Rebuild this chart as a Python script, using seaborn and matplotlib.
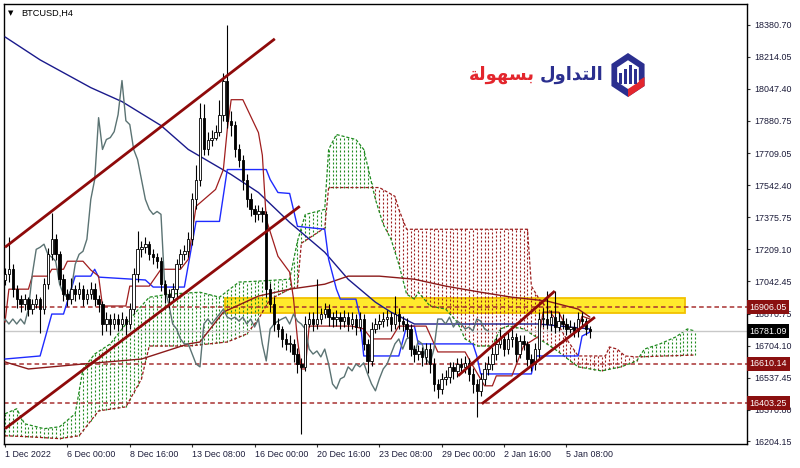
import matplotlib

matplotlib.use("Agg")
import matplotlib.pyplot as plt
import numpy as np
import pandas as pd
import seaborn as sns
from matplotlib.patches import Rectangle, RegularPolygon, Polygon
from matplotlib.transforms import blended_transform_factory


# H4 candles, bar 0 = 1 Dec 2022
first_open = 17050
closes = [
    17078, 17104, 17000, 16948, 16922, 16948, 16896, 16922, 16948, 16896,
    17026, 17182, 17261, 17182, 17052, 16974, 16948, 17000, 16974, 17000,
    16948, 16974, 17000, 16948, 16922, 16818, 16844, 16818, 16844, 16818,
    16844, 16818, 16896, 17078, 17208, 17219, 17235, 17182, 17167, 17146,
    17026, 16974, 16958, 17000, 17130, 17182, 17198, 17261, 17469, 17573,
    17896, 17730, 17782, 17792, 17823, 17912, 18090, 17880, 17860, 17730,
    17677, 17573, 17469, 17417, 17391, 17406, 17391, 17000, 16922, 16818,
    16792, 16740, 16714, 16714, 16661, 16609, 16594, 16818, 16844, 16818,
    16844, 16870, 16896, 16854, 16844, 16854, 16833, 16854, 16818, 16844,
    16802, 16844, 16714, 16625, 16792, 16818, 16833, 16844, 16854, 16818,
    16870, 16833, 16818, 16792, 16687, 16661, 16677, 16646, 16687, 16609,
    16505, 16479, 16531, 16542, 16594, 16573, 16609, 16594, 16615, 16557,
    16505, 16469, 16531, 16583, 16609, 16661, 16714, 16740, 16687, 16740,
    16750, 16661, 16730, 16714, 16635, 16609, 16687, 16844, 16844, 16818,
    16854, 16802, 16833, 16818, 16792, 16802, 16781, 16844, 16833, 16792,
    16781,
]
highs = [
    17110, 17270, 17130, 17020, 16970, 16975, 16960, 16950, 16975, 16960,
    17060, 17215, 17400, 17290, 17200, 17080, 17000, 17060, 17020, 17040,
    17020, 17000, 17040, 17030, 16970, 16940, 16880, 16870, 16875, 16870,
    16880, 16860, 16930, 17110, 17303, 17250, 17270, 17250, 17210, 17190,
    17170, 17050, 17000, 17030, 17160, 17210, 17230, 17300, 17500, 17650,
    17975, 17970, 17820, 17830, 17860, 17990, 18130, 18380, 17930, 17880,
    17760, 17700, 17600, 17500, 17440, 17440, 17430, 17410, 17030, 16960,
    16850, 16810, 16770, 16760, 16740, 16690, 16640, 16860, 16880, 16880,
    17052, 16900, 16930, 16920, 16880, 16890, 16880, 16890, 16880, 16880,
    16870, 16880, 16870, 16740, 16830, 16850, 16870, 16880, 16890, 16880,
    16963, 16900, 16860, 16850, 16820, 16710, 16710, 16700, 16720, 16720,
    16640, 16530, 16560, 16580, 16620, 16620, 16640, 16640, 16650, 16640,
    16590, 16530, 16560, 16620, 16650, 16700, 16750, 16790, 16770, 16780,
    16790, 16770, 16760, 16760, 16730, 16660, 16720, 16880, 16900, 16990,
    16890, 16990, 16880, 16870, 16850, 16840, 16830, 16880, 16880, 16850,
    16810,
]
lows = [
    17020, 17040, 16960, 16900, 16880, 16890, 16860, 16870, 16900, 16770,
    16870, 17000, 17150, 17150, 17020, 16940, 16910, 16920, 16940, 16950,
    16910, 16920, 16950, 16910, 16880, 16760, 16780, 16760, 16790, 16780,
    16790, 16760, 16790, 16870, 17040, 17170, 17190, 17150, 17130, 17110,
    16990, 16930, 16900, 16940, 16960, 17110, 17150, 17170, 17230, 17420,
    17540, 17700, 17700, 17750, 17780, 17800, 17880, 17840, 17800, 17690,
    17640, 17520, 17430, 17380, 17350, 17360, 17350, 16960, 16880, 16780,
    16750, 16700, 16680, 16670, 16620, 16560, 16245, 16570, 16800, 16780,
    16790, 16820, 16850, 16810, 16800, 16810, 16790, 16800, 16780, 16790,
    16760, 16780, 16680, 16560, 16600, 16770, 16790, 16800, 16810, 16780,
    16790, 16790, 16780, 16750, 16650, 16620, 16630, 16600, 16610, 16560,
    16470, 16430, 16450, 16500, 16510, 16530, 16540, 16560, 16560, 16520,
    16460, 16333, 16440, 16500, 16550, 16580, 16630, 16690, 16650, 16660,
    16700, 16620, 16640, 16680, 16600, 16570, 16580, 16640, 16800, 16790,
    16780, 16770, 16780, 16790, 16760, 16770, 16750, 16750, 16800, 16760,
    16745,
]

# Ichimoku / moving averages, read as (bar, price) knots
tenkan_bars = [0, 1, 6, 7, 11, 12, 15, 16, 20, 22, 24, 25, 31, 32, 37, 40, 45, 47, 49, 54,
               56, 57, 58, 61, 65, 66, 67, 70, 73, 74, 75, 76, 77, 78, 89, 92, 94, 99, 101,
               108, 111, 118, 120, 123, 125, 126, 130, 133, 137, 138, 142, 144, 147, 148, 150]
tenkan_vals = [16828, 17000, 17000, 17068, 17068, 17104, 17104, 17146, 17146, 17100, 17068,
               16912, 16912, 17016, 17016, 17104, 17104, 17156, 17433, 17521, 17625, 17834,
               17990, 17990, 17818, 17700, 17365, 17172, 17089, 16948, 16740, 16583, 16583,
               16807, 16807, 16792, 16740, 16740, 16807, 16807, 16672, 16672, 16599, 16495,
               16495, 16547, 16547, 16703, 16755, 16880, 16880, 16800, 16792, 16859, 16844]
kijun_bars = [0, 9, 12, 15, 18, 22, 23, 24, 36, 38, 46, 49, 55, 57, 67, 68, 70, 73, 75, 82,
              83, 85, 86, 90, 91, 92, 101, 103, 105, 106, 120, 121, 122, 135, 136, 147, 148, 150]
kijun_vals = [16635, 16651, 16870, 16870, 17068, 17068, 17104, 17063, 17048, 17011, 17011,
              17354, 17354, 17625, 17625, 17573, 17505, 17500, 17328, 17313, 17156, 17000,
              16948, 16948, 16859, 16651, 16651, 16807, 16807, 16714, 16714, 16651, 16557,
              16557, 16651, 16651, 16755, 16776]
ma_fast_bars = [0, 9, 22, 30, 40, 47, 58, 65, 73, 82, 88, 95, 99, 105, 137, 150]
ma_fast_vals = [18318, 18198, 18053, 17980, 17855, 17730, 17599, 17505, 17349, 17193,
                17052, 16932, 16880, 16818, 16818, 16792]
ma_slow_bars = [0, 6, 20, 35, 47, 50, 56, 65, 73, 82, 88, 96, 105, 113, 122, 130, 139, 147, 150]
ma_slow_vals = [16620, 16583, 16609, 16635, 16714, 16724, 16880, 16964, 17000, 17026,
                17068, 17068, 17052, 17016, 16984, 16958, 16938, 16896, 16854]
span_a_bars = [0, 3, 5, 10, 14, 18, 20, 23, 27, 32, 37, 42, 50, 55, 60, 65, 73, 75, 77, 80,
               82, 83, 85, 90, 92, 95, 97, 99, 101, 103, 105, 106, 109, 113, 116, 118, 121,
               125, 127, 129, 133, 137, 141, 145, 147, 153, 158, 162, 164, 168, 172, 175, 177]
span_a_vals = [16349, 16375, 16297, 16271, 16281, 16349, 16583, 16661, 16714, 16844, 16958,
               16974, 16984, 16958, 17037, 17042, 17052, 17250, 17390, 17406, 17417, 17730,
               17808, 17782, 17730, 17469, 17339, 17261, 17130, 16974, 16948, 16984, 16912,
               16896, 16828, 16740, 16703, 16703, 16792, 16807, 16792, 16740, 16687, 16625,
               16594, 16573, 16594, 16625, 16687, 16714, 16750, 16792, 16781]
span_b_bars = [0, 6, 14, 19, 24, 31, 35, 37, 47, 57, 62, 65, 68, 73, 75, 76, 82, 83, 96, 100,
               101, 103, 134, 135, 137, 140, 144, 147, 154, 155, 157, 159, 162, 177]
span_b_vals = [16234, 16229, 16219, 16234, 16364, 16385, 16531, 16703, 16703, 16724, 16766,
               16844, 16948, 17000, 17011, 17240, 17320, 17531, 17531, 17485, 17417, 17313,
               17313, 17016, 16948, 16880, 16740, 16651, 16651, 16698, 16687, 16651, 16646, 16656]
chikou_shift = 26

# drawn objects
chan_start_bar = [0, 0, 116.2, 122.3]
chan_end_bar = [69.2, 75.6, 141.0, 151.3]
chan_start_price = [17219, 16271, 16547, 16401]
chan_end_price = [18308, 17433, 16990, 16854]
zone_bars = [56.4, 174.4]
zone_prices = [16875, 16953]
level_prices = [16906.05, 16610.14, 16403.25]
bid_price = 16781.09

price_ticks = [18380.70, 18214.05, 18047.40, 17880.75, 17709.05, 17542.40, 17375.75,
               17209.10, 17042.45, 16870.75, 16704.10, 16537.45, 16370.80, 16204.15]
time_tick_bars = [0, 16, 32, 48, 64, 80, 96, 112, 128, 144]
time_tick_labels = ["1 Dec 2022", "6 Dec 00:00", "8 Dec 16:00", "13 Dec 08:00",
                    "16 Dec 00:00", "20 Dec 16:00", "23 Dec 08:00", "29 Dec 00:00",
                    "2 Jan 16:00", "5 Jan 08:00"]

sns.set_theme(style="white")
plt.rcParams["font.family"] = ["Liberation Sans", "DejaVu Sans"]

AXIS_TEXT = "#1c1c3a"

fig = plt.figure(figsize=(8, 4.68), dpi=100)
fig.patch.set_facecolor("white")
ax = fig.add_axes([4 / 800, 24 / 468, 743 / 800, 440 / 468])
ax.set_facecolor("white")

candles = pd.DataFrame({"close": closes, "high": highs, "low": lows})
candles["bar"] = np.arange(len(candles))
candles["open"] = [first_open] + closes[:-1]

# yellow zone
ax.add_patch(Rectangle((zone_bars[0], zone_prices[0]), zone_bars[1] - zone_bars[0],
                       zone_prices[1] - zone_prices[0], facecolor="#ffea2c",
                       edgecolor="#f2c200", linewidth=1.3, zorder=1))

# cloud drawn as dotted vertical hatching
cloud_x = np.arange(0, span_a_bars[-1] + 1)
span_a = np.interp(cloud_x, span_a_bars, span_a_vals)
span_b = np.interp(cloud_x, span_b_bars, span_b_vals)
up = span_a >= span_b
ax.vlines(cloud_x[up], span_b[up], span_a[up], colors="#1e8a1e", linewidth=0.8,
          linestyles=(0, (1.8, 1.8)), zorder=2)
ax.vlines(cloud_x[~up], span_a[~up], span_b[~up], colors="#9b1c1c", linewidth=0.8,
          linestyles=(0, (1.8, 1.8)), zorder=2)
ax.plot(span_a_bars, span_a_vals, color="#1e8a1e", lw=0.9, ls=(0, (2.5, 1.5)), zorder=2)
ax.plot(span_b_bars, span_b_vals, color="#9b1c1c", lw=0.9, ls=(0, (2.5, 1.5)), zorder=2)

# level lines
for lvl in level_prices:
    ax.axhline(lvl, color="#a83232", lw=1.1, ls=(0, (3, 2)), zorder=2)
ax.axhline(bid_price, color="#c8c8c8", lw=1.0, zorder=2)

# indicator lines
lines = [
    (ma_fast_bars, ma_fast_vals, "#1a1a8c", 1.0),
    (ma_slow_bars, ma_slow_vals, "#8b1a1a", 1.0),
    (kijun_bars, kijun_vals, "#1f2bff", 1.0),
    (tenkan_bars, tenkan_vals, "#a01e1e", 0.9),
]
for xs, ys, col, lw in lines:
    sns.lineplot(x=xs, y=ys, ax=ax, color=col, linewidth=lw, estimator=None,
                 sort=False, zorder=3)
sns.lineplot(x=candles["bar"] - chikou_shift, y=candles["close"], ax=ax, color="#5b7373",
             linewidth=1.0, estimator=None, sort=False, zorder=3)

# candles
bull = candles["close"] >= candles["open"]
body_lo = np.minimum(candles["open"], candles["close"])
body_h = np.maximum((candles["close"] - candles["open"]).abs(), 4)
ax.vlines(candles["bar"], candles["low"], candles["high"], colors="black", linewidth=0.8,
          zorder=4)
ax.bar(candles["bar"][bull], body_h[bull], bottom=body_lo[bull], width=0.62,
       color="white", edgecolor="black", linewidth=0.6, zorder=5)
ax.bar(candles["bar"][~bull], body_h[~bull], bottom=body_lo[~bull], width=0.62,
       color="black", edgecolor="black", linewidth=0.6, zorder=5)

# trend channels
for b0, b1, p0, p1 in zip(chan_start_bar, chan_end_bar, chan_start_price, chan_end_price):
    ax.plot([b0, b1], [p0, p1], color="#8e0a0a", lw=2.0, solid_capstyle="butt", zorder=6)

ax.set_xlim(-0.26, 190.3)
ax.set_ylim(16191, 18490)
ax.set_xlabel("")
ax.set_ylabel("")

ax.set_xticks(time_tick_bars)
ax.set_xticklabels(time_tick_labels, ha="left")
ax.set_yticks(price_ticks)
ax.set_yticklabels([f"{p:.2f}" for p in price_ticks])
ax.yaxis.tick_right()
ax.tick_params(axis="both", which="major", direction="out", length=2.5, width=0.8,
               colors="#333333", labelcolor=AXIS_TEXT, labelsize=6.4, pad=1.5)
ax.tick_params(axis="y", pad=2.5)
ax.tick_params(axis="x", bottom=True)
for s in ax.spines.values():
    s.set_color("black")
    s.set_linewidth(1.0)

# price tags on the right axis
trans = blended_transform_factory(ax.transAxes, ax.transData)
for lvl in level_prices:
    ax.text(1.0035, lvl, f"{lvl:.2f}", transform=trans, ha="left", va="center",
            fontsize=6.4, color="white", clip_on=False, zorder=10,
            bbox=dict(boxstyle="square,pad=0.28", fc="#8a1010", ec="none"))
ax.text(1.0035, bid_price, f"{bid_price:.2f}", transform=trans, ha="left", va="center",
        fontsize=6.4, color="white", clip_on=False, zorder=10,
        bbox=dict(boxstyle="square,pad=0.28", fc="black", ec="none"))

# chart caption
fig.text(8 / 800, 1 - 13 / 468, "\u25bc", fontsize=5, color="black", va="center",
         family=["DejaVu Sans"])
fig.text(21 / 800, 1 - 13 / 468, "BTCUSD,H4", fontsize=6.6, color="black", va="center")

# logo text (pre-shaped Arabic, visual order)
word_easy = "\uFE94\uFEDF\uFEEE\uFEEC\uFEB4\uFE91"
word_trading = "\uFEDD\uFEED\uFE8D\uFEAA\uFE98\uFEDF\uFE8D"
fig.text(535 / 800, 1 - 75 / 468, word_easy, fontsize=13, color="#e3262d",
         weight="bold", ha="right", va="center", family=["DejaVu Sans"])
fig.text(540 / 800, 1 - 75 / 468, word_trading, fontsize=13, color="#2b2f8f",
         weight="bold", ha="left", va="center", family=["DejaVu Sans"])

icon = fig.add_axes([608 / 800, 1 - 98 / 468, 40 / 800, 46 / 468])
icon.set_xlim(-1.15, 1.15)
icon.set_ylim(-1.15, 1.15)
icon.axis("off")
icon.add_patch(RegularPolygon((0, 0), 6, radius=1.1, orientation=0, fc="#2b2f8f", ec="none"))
icon.add_patch(Polygon([[0, -1.1], [0.95, -0.55], [0.95, -0.1], [0, -0.62]],
                       closed=True, fc="#e3262d", ec="none"))
icon.add_patch(RegularPolygon((0, 0.02), 6, radius=0.72, orientation=0, fc="white", ec="none"))
for bx, bh in zip([-0.42, -0.14, 0.14, 0.42], [0.55, 0.75, 0.95, 0.75]):
    icon.add_patch(Rectangle((bx - 0.08, -0.45), 0.16, bh, fc="#2b2f8f", ec="none"))

fig.savefig("out.png", dpi=100, facecolor="white")
